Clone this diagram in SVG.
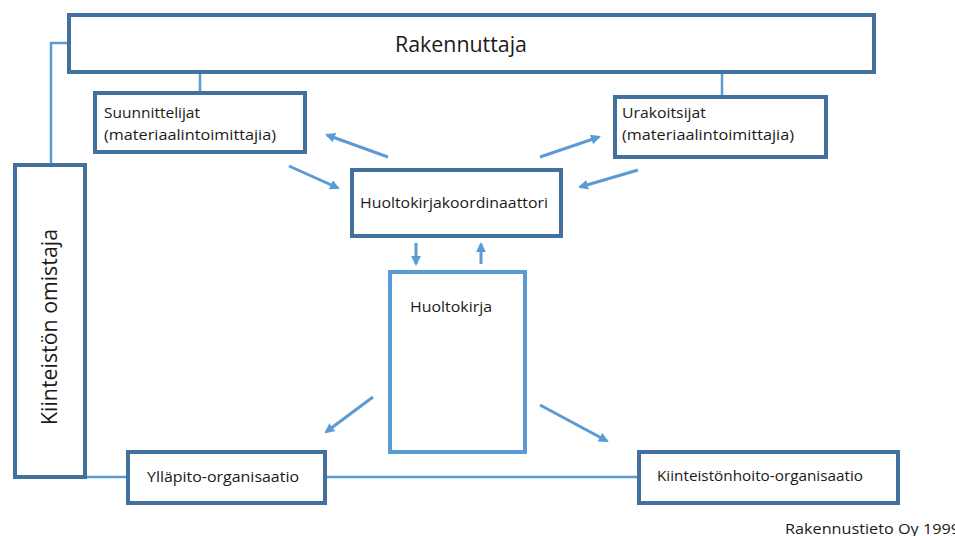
<svg xmlns="http://www.w3.org/2000/svg" width="955" height="536" viewBox="0 0 955 536">
<defs>
<style>
.dk{fill:#fff;stroke:#41719C;stroke-width:4}
.lt{fill:#fff;stroke:#5B9BD5;stroke-width:4}
.ln{fill:none;stroke:#5B9BD5;stroke-width:2.5}
.ar{fill:none;stroke:#5B9BD5;stroke-width:3;marker-end:url(#ah)}
text{font-family:"Open Sans","Liberation Sans",sans-serif;fill:#1a1a1a}
.s{font-size:14.5px}
.b{font-size:21px}
</style>
<marker id="ah" viewBox="0 0 10 10" refX="8" refY="5" markerWidth="3.3" markerHeight="3.3" orient="auto" markerUnits="strokeWidth">
<path d="M0,0 L10,5 L0,10 z" fill="#5B9BD5"/>
</marker>
</defs>
<rect width="955" height="536" fill="#fff"/>
<g id="connectors">
<polyline class="ln" points="69,43 51,43 51,165"/>
<line class="ln" x1="200" y1="73" x2="200" y2="93"/>
<line class="ln" x1="722" y1="73" x2="722" y2="97"/>
<line class="ln" x1="87" y1="477" x2="128" y2="477"/>
<line class="ln" x1="325" y1="477" x2="639" y2="477"/>
<line class="ar" x1="388" y1="157" x2="327" y2="135"/>
<line class="ar" x1="289" y1="166" x2="338" y2="188"/>
<line class="ar" x1="540" y1="157" x2="599" y2="137"/>
<line class="ar" x1="638" y1="170" x2="580" y2="187"/>
<line class="ar" x1="416" y1="243" x2="416" y2="264"/>
<line class="ar" x1="481" y1="264" x2="481" y2="244"/>
<line class="ar" x1="373" y1="397" x2="326" y2="432"/>
<line class="ar" x1="540" y1="405" x2="607" y2="441"/>
</g>
<g id="rakennuttaja">
<rect class="dk" x="69" y="15" width="805" height="57"/>
<text class="b" x="461" y="52" text-anchor="middle" textLength="132" lengthAdjust="spacingAndGlyphs">Rakennuttaja</text>
</g>
<g id="suunnittelijat">
<rect class="dk" x="95" y="93" width="210" height="59"/>
<text class="s" x="104" y="118" textLength="96" lengthAdjust="spacingAndGlyphs">Suunnittelijat</text>
<text class="s" x="104" y="140" textLength="172" lengthAdjust="spacingAndGlyphs">(materiaalintoimittajia)</text>
</g>
<g id="urakoitsijat">
<rect class="dk" x="615" y="97" width="211" height="60"/>
<text class="s" x="622" y="118" textLength="84" lengthAdjust="spacingAndGlyphs">Urakoitsijat</text>
<text class="s" x="622" y="140" textLength="172" lengthAdjust="spacingAndGlyphs">(materiaalintoimittajia)</text>
</g>
<g id="koordinaattori">
<rect class="dk" x="352" y="170" width="209" height="66"/>
<text class="s" x="360" y="208" textLength="188" lengthAdjust="spacingAndGlyphs">Huoltokirjakoordinaattori</text>
</g>
<g id="huoltokirja">
<rect class="lt" x="390" y="272" width="135" height="180"/>
<text class="s" x="410" y="312" textLength="82" lengthAdjust="spacingAndGlyphs">Huoltokirja</text>
</g>
<g id="omistaja">
<rect class="dk" x="15" y="165" width="70" height="312"/>
<text class="b" transform="translate(57,425) rotate(-90)" textLength="196" lengthAdjust="spacingAndGlyphs">Kiinteistön omistaja</text>
</g>
<g id="yllapito">
<rect class="dk" x="128" y="452" width="197" height="51"/>
<text class="s" x="147" y="482" textLength="152" lengthAdjust="spacingAndGlyphs">Ylläpito-organisaatio</text>
</g>
<g id="kiinteistonhoito">
<rect class="dk" x="639" y="452" width="259" height="51"/>
<text class="s" x="657" y="481" textLength="206" lengthAdjust="spacingAndGlyphs">Kiinteistönhoito-organisaatio</text>
</g>
<text class="s" x="785" y="534" textLength="175" lengthAdjust="spacingAndGlyphs">Rakennustieto Oy 1999</text>
</svg>
